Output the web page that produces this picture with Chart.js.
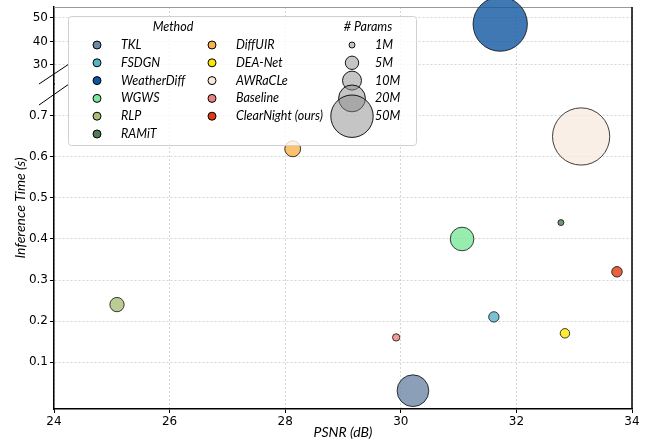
<!DOCTYPE html>
<html>
<head>
<meta charset="utf-8">
<script src="https://cdn.jsdelivr.net/npm/chart.js@4.4.1/dist/chart.umd.min.js"></script>
<style>
html, body { margin: 0; padding: 0; background: #fff; }
</style>
</head>
<body>
<canvas id="bubbleChart" width="652" height="445"></canvas>
<script>
var methods = ['TKL', 'FSDGN', 'WeatherDiff', 'WGWS', 'RLP', 'RAMiT',
               'DiffUIR', 'DEA-Net', 'AWRaCLe', 'Baseline', 'ClearNight (ours)'];
var psnr = [30.21, 31.61, 31.72, 31.06, 25.09, 32.77, 28.13, 32.84, 33.12, 29.92, 33.74];
var inferenceTime = [0.03, 0.21, 47.4, 0.40, 0.24, 0.44, 0.62, 0.17, 0.65, 0.16, 0.32];
var paramsM = [28, 3, 82, 15.5, 5.7, 1, 7, 2.5, 91, 1.5, 3.1];
var colors = ['#6f87a8', '#5ab4c9', '#0f56a0', '#7de89a', '#a9bf79', '#4f7d56',
              '#f9b24a', '#ffe600', '#f7ebe0', '#ef8080', '#e03a10'];

// Size legend
var sizeLegend = [1, 5, 10, 20, 50];
var sizeLabels = ['1M', '5M', '10M', '20M', '50M'];

// Tick labels
var xTicks = [24, 26, 28, 30, 32, 34];
var yTicksTop = [30, 40, 50];
var yTicksBottom = [0.1, 0.2, 0.3, 0.4, 0.5, 0.6, 0.7];

var tickFont = { family: 'DejaVu Sans', size: 12 };
var labelFont = 'Lato';

// bubble radius in px from params (area proportional to params)
function radiusOf(m) {
    return 3 * Math.sqrt(m);
}

function withAlpha(hex, a) {
    var r = parseInt(hex.substr(1, 2), 16);
    var g = parseInt(hex.substr(3, 2), 16);
    var b = parseInt(hex.substr(5, 2), 16);
    return 'rgba(' + r + ',' + g + ',' + b + ',' + a + ')';
}

// keep the plot box fixed: no extra room for edge tick labels
function fixAxis(w, h) {
    return function (scale) {
        if (w) scale.width = w;
        if (h) scale.height = h;
        scale.paddingTop = 0;
        scale.paddingBottom = 0;
        scale.paddingLeft = 0;
        scale.paddingRight = 0;
    };
}

var datasets = methods.map(function (m, i) {
    return {
        label: m,
        data: [{ x: psnr[i], y: inferenceTime[i], r: radiusOf(paramsM[i]) }],
        yAxisID: inferenceTime[i] > 1 ? 'yTop' : 'yBot',
        backgroundColor: withAlpha(colors[i], 0.8),
        borderColor: 'rgba(0,0,0,0.75)',
        borderWidth: 1,
        clip: false
    };
});

var gridStyle = {
    color: 'rgba(0,0,0,0.2)',
    lineWidth: 0.8,
    tickColor: '#000',
    tickLength: 4,
    tickWidth: 1
};

// Frame, break marks, y title and the two-part legend.
var decorPlugin = {
    id: 'decor',
    beforeDatasetsDraw: function (chart) {
        var ctx = chart.ctx, a = chart.chartArea;
        ctx.save();
        ctx.strokeStyle = '#999';
        ctx.lineWidth = 1;
        ctx.beginPath();
        ctx.moveTo(a.left, a.top + 0.5);
        ctx.lineTo(a.right, a.top + 0.5);
        ctx.stroke();
        ctx.strokeStyle = '#000';
        ctx.lineWidth = 1.5;
        ctx.beginPath();
        ctx.moveTo(a.right, a.top);
        ctx.lineTo(a.right, a.bottom);
        ctx.stroke();
        ctx.restore();
    },
    afterDatasetsDraw: function (chart) {
        var ctx = chart.ctx, a = chart.chartArea;
        ctx.save();

        // axis break marks
        var b = chart.scales.yTop.bottom;
        ctx.strokeStyle = '#000';
        ctx.lineWidth = 1;
        ctx.beginPath();
        ctx.moveTo(a.left - 15, b);
        ctx.lineTo(a.left + 15, b - 20);
        ctx.moveTo(a.left - 15, b + 21);
        ctx.lineTo(a.left + 15, b);
        ctx.stroke();

        // y axis title
        ctx.save();
        ctx.translate(20, (a.top + a.bottom) / 2);
        ctx.rotate(-Math.PI / 2);
        ctx.font = 'italic 14px ' + labelFont;
        ctx.fillStyle = '#000';
        ctx.textAlign = 'center';
        ctx.textBaseline = 'middle';
        ctx.fillText('Inference Time (s)', 0, 0);
        ctx.restore();

        // legend box
        ctx.fillStyle = 'rgba(255,255,255,0.8)';
        ctx.strokeStyle = '#d0d0d0';
        ctx.lineWidth = 1;
        ctx.beginPath();
        ctx.roundRect(68.5, 16.5, 348, 129, 3);
        ctx.fill();
        ctx.stroke();

        ctx.font = 'italic 12.5px ' + labelFont;
        ctx.fillStyle = '#000';
        ctx.textBaseline = 'middle';
        ctx.textAlign = 'center';
        ctx.fillText('Method', 173, 27);
        ctx.fillText('# Params', 368, 27);

        ctx.textAlign = 'left';
        methods.forEach(function (m, i) {
            var col = i < 6 ? 0 : 1;
            var row = i < 6 ? i : i - 6;
            var mx = col === 0 ? 97 : 212;
            var my = 45 + row * 17.8;
            ctx.beginPath();
            ctx.arc(mx, my, 4, 0, Math.PI * 2);
            ctx.fillStyle = colors[i];
            ctx.fill();
            ctx.strokeStyle = '#000';
            ctx.lineWidth = 1;
            ctx.stroke();
            ctx.fillStyle = '#000';
            ctx.fillText(m, mx + 24, my);
        });

        sizeLegend.forEach(function (s, i) {
            var my = 45 + i * 17.8;
            ctx.beginPath();
            ctx.arc(352, my, radiusOf(s), 0, Math.PI * 2);
            ctx.fillStyle = 'rgba(140,140,140,0.5)';
            ctx.fill();
            ctx.strokeStyle = '#000';
            ctx.lineWidth = 0.9;
            ctx.stroke();
        });
        ctx.fillStyle = '#000';
        sizeLabels.forEach(function (s, i) {
            ctx.fillText(s, 375, 45 + i * 17.8);
        });

        ctx.restore();
    }
};

var chart = new Chart(document.getElementById('bubbleChart').getContext('2d'), {
    type: 'bubble',
    data: { datasets: datasets },
    options: {
        responsive: false,
        animation: false,
        events: [],
        // no auto padding for big bubbles; they may overflow the frame
        layout: { autoPadding: false, padding: { left: 0, right: 20, top: 7, bottom: 0 } },
        plugins: {
            legend: { display: false },
            tooltip: { enabled: false }
        },
        scales: {
            x: {
                type: 'linear',
                min: 24,
                max: 34,
                afterBuildTicks: function (scale) {
                    scale.ticks = xTicks.map(function (v) { return { value: v }; });
                },
                afterFit: fixAxis(0, 36),
                ticks: { font: tickFont, color: '#000', padding: 2, autoSkip: false, maxRotation: 0,
                         callback: function (v) { return String(v); } },
                grid: gridStyle,
                border: { display: true, color: '#000', width: 1.5, dash: [2, 2] },
                title: { display: true, text: 'PSNR (dB)', color: '#000',
                         font: { family: labelFont, size: 14, style: 'italic' }, padding: { top: 0 } }
            },
            // stacked axes: the first one defined sits at the bottom
            yBot: {
                type: 'linear',
                position: 'left',
                stack: 'time',
                stackWeight: 325,
                min: -0.0146,
                max: 0.778,
                afterBuildTicks: function (scale) {
                    scale.ticks = yTicksBottom.map(function (v) { return { value: v }; });
                },
                afterFit: fixAxis(54, 0),
                ticks: { font: tickFont, color: '#000', padding: 2,
                         callback: function (v) { return String(v); } },
                grid: gridStyle,
                border: { display: true, color: '#000', width: 1.5, dash: [2, 2] }
            },
            yTop: {
                type: 'linear',
                position: 'left',
                stack: 'time',
                stackWeight: 77,
                min: 21.9,
                max: 54.68,
                afterBuildTicks: function (scale) {
                    scale.ticks = yTicksTop.map(function (v) { return { value: v }; });
                },
                afterFit: fixAxis(54, 0),
                ticks: { font: tickFont, color: '#000', padding: 2,
                         callback: function (v) { return String(v); } },
                grid: gridStyle,
                border: { display: true, color: '#000', width: 1.5, dash: [2, 2] }
            }
        }
    },
    plugins: [decorPlugin]
});
</script>
</body>
</html>
